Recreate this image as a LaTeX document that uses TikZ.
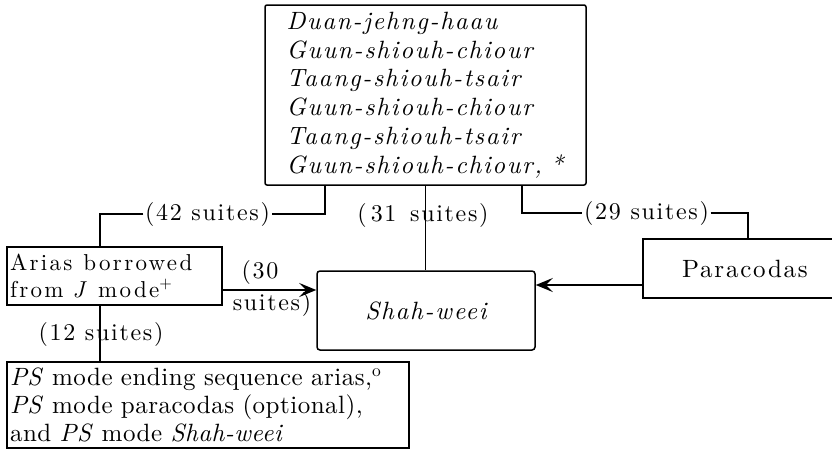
\documentclass[tikz,border=0pt]{standalone}
\usepackage{fontspec}
\usetikzlibrary{arrows.meta}
\newfontfamily\boxfont{lmroman10-regular.otf}[ItalicFont=lmroman10-italic.otf, LetterSpace=7]
\newfontfamily\ariasfont{lmroman10-regular.otf}[ItalicFont=lmroman10-italic.otf, LetterSpace=10]
\newfontfamily\psfont{lmroman10-regular.otf}[ItalicFont=lmroman10-italic.otf, LetterSpace=2]
\newfontfamily\lblfont{lmroman10-regular.otf}[ItalicFont=lmroman10-italic.otf, LetterSpace=7]
\begin{document}
\begin{tikzpicture}[x=1pt,y=-1pt,
  box/.style={draw, line width=1.5pt},
  lbl/.style={inner xsep=1.5pt, inner ysep=0pt, font=\lblfont\fontsize{24}{26}\selectfont},
  arr/.style={-{Stealth[length=17pt,width=14pt,inset=7pt]}, line width=1.4pt},
  conn/.style={line width=1.5pt}]
\useasboundingbox (0,0) rectangle (832,450);

\node[box, rounded corners=2pt, minimum width=321pt, minimum height=180pt,
      text width=290pt, inner xsep=15.5pt, align=left,
      font=\boxfont\itshape\fontsize{25}{28.7}\selectfont] (top) at (425.5,95)
  {\hspace*{6pt}Duan-jehng-haau\\\hspace*{6pt}Guun-shiouh-chiour\\\hspace*{6pt}Taang-shiouh-tsair\\\hspace*{6pt}Guun-shiouh-chiour\\\hspace*{6pt}Taang-shiouh-tsair\\\hspace*{6pt}Guun-shiouh-chiour, *};

\node[box, minimum width=215pt, minimum height=58pt, text width=209pt, inner xsep=3pt,
      align=left, font=\ariasfont\fontsize{23}{26.5}\selectfont] (arias) at (114.5,276)
  {Arias\hspace{11pt}borrowed\\from\hspace{9pt}\textit{J}\hspace{9pt}mode\textsuperscript{+}};

\node[box, rounded corners=3pt, minimum width=218pt, minimum height=79pt,
      font=\boxfont\itshape\fontsize{25}{26}\selectfont] (shah) at (426,310.5) {Shah-weei};

\node[minimum width=189pt, minimum height=59pt,
      font=\boxfont\fontsize{25}{26}\selectfont] (para) at (737.5,268.5) {\hspace{15pt}Paracodas};
\draw[conn] (para.north east) -- (para.north west) -- (para.south west) -- (para.south east);

\node[box, minimum width=402pt, minimum height=86pt, text width=396pt, inner xsep=3pt,
      align=left, font=\psfont\fontsize{25}{28}\selectfont] (ps) at (208,405)
  {\textit{PS} mode ending sequence arias,\textsuperscript{o}\\
   \textit{PS} mode paracodas (optional),\\
   and \textit{PS} mode \textit{Shah-weei}};

\node[lbl] (l42) at (207.5,214) {(42 suites)};
\node[lbl] (l31) at (423,215) {(\,31\, suites)};
\node[lbl] (l29) at (646.5,213) {(29 suites)};
\node[lbl] (l30a) at (260,272) {(30};
\node[lbl] (l30b) at (272,304) {suites)};
\node[lbl] (l12) at (101,334) {(12 suites)};

\draw[conn] ([xshift=-100.5pt]top.south) |- (l42.east);
\draw[conn] (l42.west) -| ([xshift=-14.5pt]arias.north);
\draw[conn] (top.south) -- (top.south |- shah.north);
\draw[conn] ([xshift=96.5pt]top.south) |- (l29.west);
\draw[conn] (l29.east) -| ([xshift=10.5pt]para.north);

\coordinate (a30) at ([yshift=-14pt]arias.east);
\draw[arr] (a30) -- (a30 -| shah.west);
\coordinate (p29) at ([yshift=-16.5pt]para.west);
\draw[arr] (p29) -- (p29 -| shah.east);

\draw[conn] ([xshift=-14.5pt]arias.south) -- ([xshift=-14.5pt]arias.south |- ps.north);
\end{tikzpicture}
\end{document}
